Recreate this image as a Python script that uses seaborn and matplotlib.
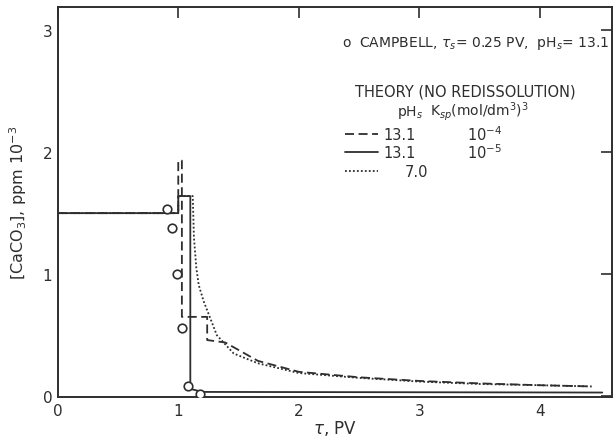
import matplotlib
matplotlib.use("Agg")
import matplotlib.pyplot as plt
import seaborn as sns
import pandas as pd
from matplotlib.lines import Line2D

# Campbell experiment: measured calcite concentration in the effluent
campbell_tau = [0.91, 0.95, 0.99, 1.03, 1.08, 1.18]
campbell_conc = [1.53, 1.38, 1.00, 0.56, 0.08, 0.02]

# Theory, pH_s = 13.1, Ksp = 1e-4 (dashed)
theory_a_tau = [0.0, 1.00, 1.00, 1.03, 1.03, 1.24, 1.24, 1.39, 1.66, 2.00, 2.50, 3.00, 3.50, 4.00, 4.43]
theory_a_conc = [1.50, 1.50, 1.93, 1.93, 0.65, 0.65, 0.46, 0.44, 0.29, 0.20, 0.155, 0.125, 0.105, 0.09, 0.08]

# Theory, pH_s = 13.1, Ksp = 1e-5 (solid)
theory_b_tau = [0.0, 1.00, 1.00, 1.10, 1.10, 1.20, 4.52]
theory_b_conc = [1.50, 1.50, 1.64, 1.64, 0.06, 0.035, 0.03]

# Theory, pH_s = 7.0 (dotted)
theory_c_tau = [0.0, 1.00, 1.00, 1.12, 1.13, 1.15, 1.17, 1.21, 1.32, 1.46, 1.66, 2.00, 2.50, 3.00, 3.50, 4.00, 4.43]
theory_c_conc = [1.50, 1.50, 1.64, 1.64, 1.30, 1.05, 0.91, 0.78, 0.50, 0.35, 0.27, 0.19, 0.15, 0.12, 0.10, 0.09, 0.08]

x_ticks = [0, 1, 2, 3, 4]
y_ticks = [0, 1, 2, 3]

legend_ph = ["13.1", "13.1", "7.0"]
legend_ksp = [r"10$^{-4}$", r"10$^{-5}$", ""]
legend_styles = [(0, (5, 2.5)), "-", (0, (1, 1.2))]

ink = "#2e2e2e"

sns.set_theme(style="white")
plt.rcParams["font.family"] = ["DejaVu Sans"]

fig = plt.figure(figsize=(6.15, 4.39), dpi=100)
ax = fig.add_axes([0.094, 0.093, 0.901, 0.889])

series = [
    (theory_a_tau, theory_a_conc, legend_styles[0]),
    (theory_b_tau, theory_b_conc, legend_styles[1]),
    (theory_c_tau, theory_c_conc, legend_styles[2]),
]
for tau, conc, ls in series:
    df = pd.DataFrame({"tau": tau, "conc": conc})
    sns.lineplot(data=df, x="tau", y="conc", sort=False, estimator=None,
                 color=ink, lw=1.3, ax=ax, linestyle=ls)

obs = pd.DataFrame({"tau": campbell_tau, "conc": campbell_conc})
sns.scatterplot(data=obs, x="tau", y="conc", ax=ax, s=38, marker="o",
                facecolor="white", edgecolor=ink, linewidth=1.2, zorder=5)

ax.set_xlim(0, 4.6)
ax.set_ylim(-0.008, 3.19)
ax.set_xticks(x_ticks)
ax.set_yticks(y_ticks)
ax.set_xticklabels([str(t) for t in x_ticks])
ax.set_yticklabels([str(t) for t in y_ticks])
ax.tick_params(direction="in", length=8, width=1.2, color=ink,
               top=True, right=True, labelsize=11, labelcolor=ink, pad=4)
for sp in ax.spines.values():
    sp.set_color(ink)
    sp.set_linewidth(1.4)

ax.set_xlabel(r"$\tau$, PV", fontsize=12, color=ink, labelpad=0)
ax.set_ylabel(r"[CaCO$_3$], ppm 10$^{-3}$", fontsize=11.5, color=ink)
ax.yaxis.set_label_coords(-0.052, 0.5)

# Annotation block
tr = ax.transAxes
ax.text(0.995, 0.91, r"o  CAMPBELL, $\tau_s$= 0.25 PV,  pH$_s$= 13.1",
        transform=tr, ha="right", va="center", fontsize=10, color=ink)
ax.text(0.735, 0.785, "THEORY (NO REDISSOLUTION)", transform=tr,
        ha="center", va="center", fontsize=10.5, color=ink)
ax.text(0.635, 0.731, r"pH$_s$", transform=tr, ha="center", va="center",
        fontsize=10, color=ink)
ax.text(0.671, 0.735, r"K$_{sp}$(mol/dm$^3$)$^3$", transform=tr,
        ha="left", va="center", fontsize=10, color=ink)

row_y = [0.674, 0.628, 0.579]
row_x = [0.587, 0.587, 0.627]
for yy, xx, ph, ksp, ls in zip(row_y, row_x, legend_ph, legend_ksp, legend_styles):
    ax.add_line(Line2D([0.518, 0.578], [yy, yy], transform=tr, color=ink,
                       lw=1.3, linestyle=ls))
    ax.text(xx, yy, ph, transform=tr, ha="left", va="center",
            fontsize=10.5, color=ink)
    if ksp:
        ax.text(0.738, yy, ksp, transform=tr, ha="left", va="center",
                fontsize=10.5, color=ink)

fig.savefig("out.png", dpi=100)
